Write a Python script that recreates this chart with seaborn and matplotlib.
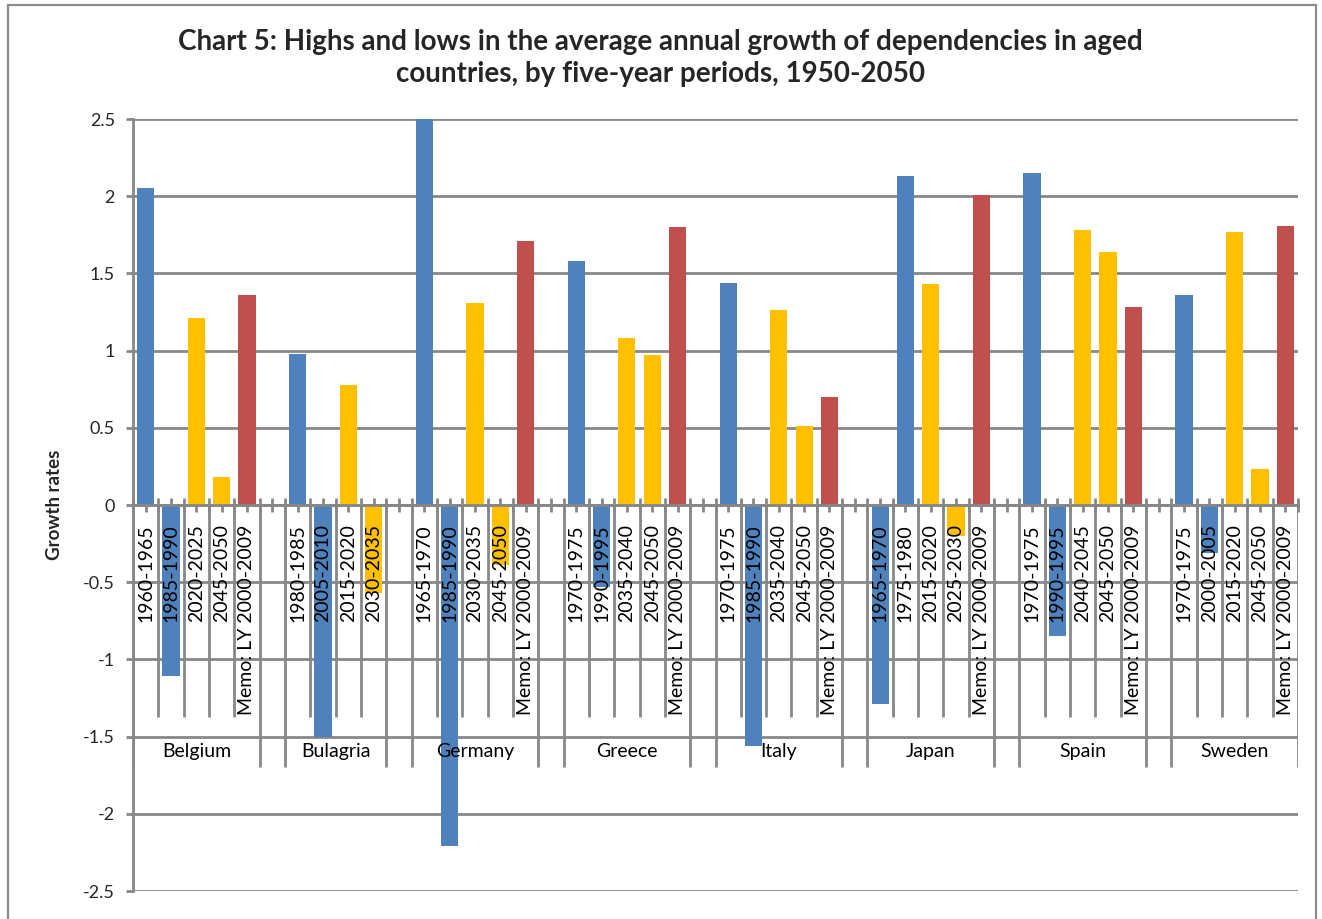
import numpy as np
import pandas as pd
import matplotlib
matplotlib.use("Agg")
import matplotlib.pyplot as plt
import seaborn as sns
from matplotlib.patches import Rectangle

# ==============================
# DATA
# ==============================

countries = ["Belgium", "Bulagria", "Germany", "Greece", "Italy", "Japan", "Spain", "Sweden"]

periods = [
    ["1960-1965", "1985-1990", "2020-2025", "2045-2050", "Memo: LY 2000-2009"],
    ["1980-1985", "2005-2010", "2015-2020", "2030-2035"],
    ["1965-1970", "1985-1990", "2030-2035", "2045-2050", "Memo: LY 2000-2009"],
    ["1970-1975", "1990-1995", "2035-2040", "2045-2050", "Memo: LY 2000-2009"],
    ["1970-1975", "1985-1990", "2035-2040", "2045-2050", "Memo: LY 2000-2009"],
    ["1965-1970", "1975-1980", "2015-2020", "2025-2030", "Memo: LY 2000-2009"],
    ["1970-1975", "1990-1995", "2040-2045", "2045-2050", "Memo: LY 2000-2009"],
    ["1970-1975", "2000-2005", "2015-2020", "2045-2050", "Memo: LY 2000-2009"],
]

growth = [
    [2.05, -1.11, 1.21, 0.18, 1.36],
    [0.98, -1.50, 0.78, -0.57],
    [2.50, -2.21, 1.31, -0.39, 1.71],
    [1.58, -0.53, 1.08, 0.97, 1.80],
    [1.44, -1.56, 1.26, 0.51, 0.70],
    [-1.29, 2.13, 1.43, -0.20, 2.01],
    [2.15, -0.85, 1.78, 1.64, 1.28],
    [1.36, -0.31, 1.77, 0.23, 1.81],
]

# past = observed high/low, proj = projected high/low, memo = last years
kinds = [
    ["past", "past", "proj", "proj", "memo"],
    ["past", "past", "proj", "proj"],
    ["past", "past", "proj", "proj", "memo"],
    ["past", "past", "proj", "proj", "memo"],
    ["past", "past", "proj", "proj", "memo"],
    ["past", "past", "proj", "proj", "memo"],
    ["past", "past", "proj", "proj", "memo"],
    ["past", "past", "proj", "proj", "memo"],
]

palette = {"past": "#4F81BD", "proj": "#FFC000", "memo": "#C0504D"}
grid_col = "#878787"

# ==============================
# BUILD SLOTS (blank row between countries)
# ==============================

rows = []
spans = []
slot = 0
for i, c in enumerate(countries):
    if i > 0:
        slot += 1  # empty category between countries
    start = slot
    for p, v, k in zip(periods[i], growth[i], kinds[i]):
        rows.append({"slot": slot, "country": c, "period": p, "value": v, "kind": k})
        slot += 1
    spans.append((c, start, slot))
n_slots = slot
df = pd.DataFrame(rows)

# ==============================
# PLOT
# ==============================

sns.set_theme(style="white")
plt.rcParams["font.family"] = ["Lato", "DejaVu Sans"]

fig = plt.figure(figsize=(13.22, 9.19), dpi=100)
ax = fig.add_axes([133 / 1322, 1 - 891 / 919, (1298 - 133) / 1322, (891 - 119) / 919])

sns.barplot(data=df, x="slot", y="value", hue="kind", order=list(range(n_slots)),
            hue_order=["past", "proj", "memo"], palette=palette, dodge=False,
            width=0.68, saturation=1, errorbar=None, legend=False, linewidth=0, ax=ax)

ax.set_xlim(-0.5, n_slots - 0.5)
ax.set_ylim(-2.5, 2.5)
ax.set_xlabel("")
ax.set_ylabel("")

# y axis and gridlines
yt = np.arange(-2.5, 2.51, 0.5)
ax.set_yticks(yt)
ax.set_yticklabels([f"{t:g}" for t in yt], fontsize=13)
ax.yaxis.grid(True, color=grid_col, lw=2)
ax.set_axisbelow(True)
ax.tick_params(axis="y", length=5, width=2, color=grid_col, pad=8, left=True)

for s in ["top", "right"]:
    ax.spines[s].set_visible(False)
ax.spines["left"].set_color(grid_col)
ax.spines["left"].set_linewidth(2)
ax.spines["bottom"].set_position(("data", 0))
ax.spines["bottom"].set_color(grid_col)
ax.spines["bottom"].set_linewidth(2)

# small ticks along the zero axis every half category
ax.set_xticks(np.arange(-0.5, n_slots, 0.5))
ax.set_xticklabels([])
ax.tick_params(axis="x", direction="inout", length=10, width=2, color=grid_col, bottom=True)

# multi-level category labels
edges = set()
for c, start, end in spans:
    for b in range(start + 1, end):
        ax.vlines(b - 0.5, -1.373, 0, color=grid_col, lw=2, zorder=1.5)
    edges.update([start - 0.5, end - 0.5])
for e in sorted(edges):
    ax.vlines(e, -1.70, 0, color=grid_col, lw=2, zorder=1.5)

for _, r in df.iterrows():
    ax.text(r["slot"], -0.125, r["period"], rotation=90, ha="center", va="top",
            fontsize=14, color="black", zorder=4)
for c, start, end in spans:
    ax.text((start + end - 1) / 2, -1.595, c, ha="center", va="center", fontsize=14, color="black")

fig.text(55 / 1322, 1 - 505 / 919, "Growth rates", rotation=90, ha="center", va="center",
         fontsize=13.5, fontweight="bold")

fig.text(0.4995, 1 - 58 / 919,
         "Chart 5: Highs and lows in the average annual growth of dependencies in aged\n"
         "countries, by five-year periods, 1950-2050",
         ha="center", va="center", fontsize=20, fontweight="bold", linespacing=1.3)

# outer chart border
fig.add_artist(Rectangle((8 / 1322, -0.02), (1316 - 8) / 1322, 1.02 - 5 / 919,
                         transform=fig.transFigure, fill=False, edgecolor="#8C8C8C", lw=1.6))

fig.savefig("out.png", dpi=100)
